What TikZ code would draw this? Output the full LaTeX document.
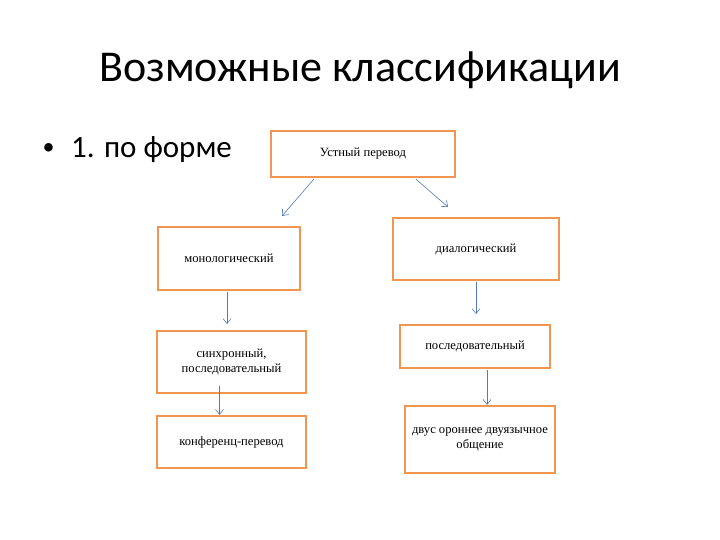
\documentclass[tikz,border=0pt]{standalone}
\usepackage{fontspec}
\setmainfont{Liberation Serif}
\newfontfamily\slidefont{Carlito}
\usetikzlibrary{arrows.meta}
\definecolor{boxorange}{RGB}{240,150,80}
\definecolor{arrowblue}{RGB}{80,120,190}
\begin{document}
\begin{tikzpicture}[x=1pt,y=-1pt,
  box/.style={draw=boxorange,line width=2.2pt,fill=white,inner sep=0pt,align=center,font=\fontsize{12.6}{14.5}\selectfont},
  conn/.style={draw=arrowblue,line width=0.6pt,-{Straight Barb[length=5pt,width=8pt]}}]
\useasboundingbox[fill=white] (0,0) rectangle (720,540);
\node[font=\slidefont\fontsize{44}{50}\selectfont] (title) at (360,70) {Возможные классификации};
\node[font=\slidefont\fontsize{24}{28}\selectfont,anchor=center] (dot) at (48.5,149) {•};
\node[font=\slidefont\fontsize{31}{34}\selectfont,anchor=west,inner sep=0pt] (bul) at (71,150) {1. по форме};
\node[box,minimum width=184pt,minimum height=46pt] (a) at (363,154) {Устный перевод};
\node[box,minimum width=142pt,minimum height=63pt] (b) at (229,258.5) {монологический};
\node[box,minimum width=166pt,minimum height=62pt] (c) at (476,249) {диалогический};
\node[box,minimum width=149pt,minimum height=62pt] (d) at (231.5,362) {синхронный,\\последовательный};
\node[box,minimum width=150pt,minimum height=43pt] (e) at (475,346.5) {последовательный};
\node[box,minimum width=149pt,minimum height=52pt] (f) at (231.5,442) {конференц-перевод};
\node[box,minimum width=150pt,minimum height=67pt] (g) at (480,439.5) {двус ороннее двуязычное\\общение};
\coordinate (a1) at (282,216);
\coordinate (a2) at (448,207);
\draw[conn] (a.south west) ++(44,1) -- (a1);
\draw[conn] (a.south west) ++(146,1) -- (a2);
\draw[conn] (b.south) ++(-2,1) -- ++(0,32);
\draw[conn] (c.south) ++(0,1) -- ++(0,32);
\draw[conn] (d.south) ++(-12,-8) -- (f.north -| 219.5,0);
\draw[conn] (e.south) ++(12,1) -- (g.north -| 487,0);
\end{tikzpicture}
\end{document}
